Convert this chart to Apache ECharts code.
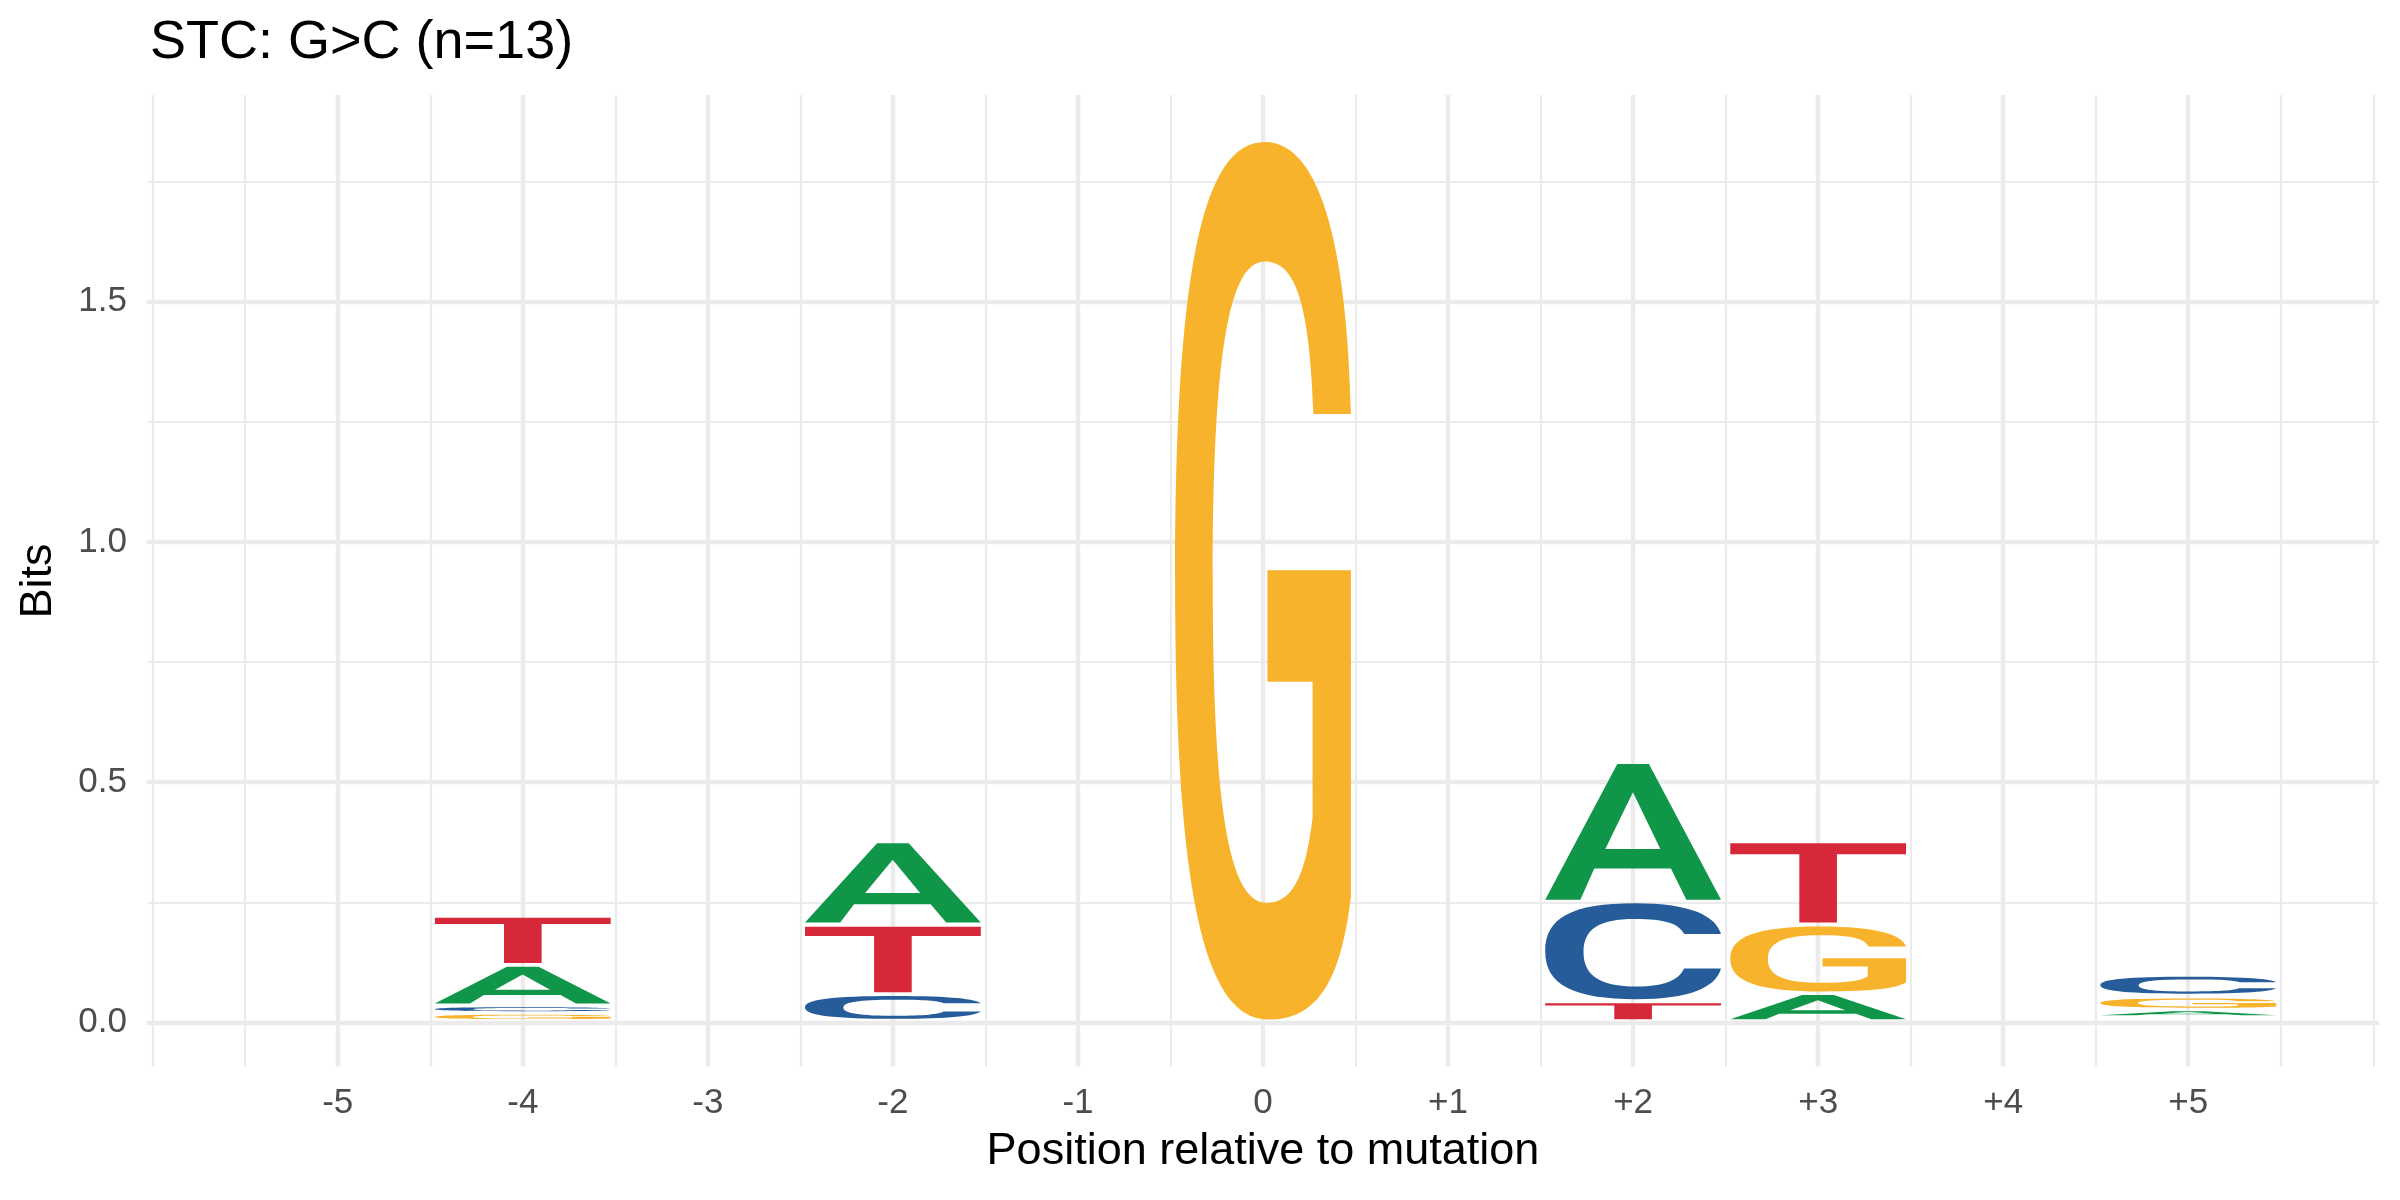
<!DOCTYPE html>
<html>
<head>
<meta charset="utf-8">
<script src="https://cdn.jsdelivr.net/npm/echarts@6/dist/echarts.min.js"></script>
<style>
html,body{margin:0;padding:0;background:#ffffff;}
#chart{width:2400px;height:1200px;}
</style>
</head>
<body>
<div id="chart"></div>
<script>
// ---------------- data ----------------
const positions  = [-4, -4, -4, -4,  -2, -2, -2,  0,  2, 2, 2,  3, 3, 3,  5, 5, 5];
const letters    = ['G','C','A','T', 'C','T','A', 'G', 'T','C','A', 'A','G','T', 'A','G','C'];
const bitBottoms = [0.007, 0.0235, 0.0396, 0.124,  0.0077, 0.063, 0.208,  0.006,  0.0069, 0.0486, 0.2556,  0.0069, 0.0646, 0.208,  0.0153, 0.0306, 0.060];
const bitTops    = [0.016, 0.0315, 0.116, 0.218,   0.055, 0.199, 0.373,   1.832,  0.040, 0.248, 0.538,     0.057, 0.200, 0.373,     0.0236, 0.050, 0.095];

const xTickValues = [-5, -4, -3, -2, -1, 0, 1, 2, 3, 4, 5];
const yTickValues = [0, 0.5, 1.0, 1.5];
const xMajorGrid = [-5, -4, -3, -2, -1, 0, 1, 2, 3, 4, 5];
const xMinorGrid = [-6, -5.5, -4.5, -3.5, -2.5, -1.5, -0.5, 0.5, 1.5, 2.5, 3.5, 4.5, 5.5, 6];
const yMajorGrid = [0, 0.5, 1.0, 1.5];
const yMinorGrid = [0.25, 0.75, 1.25, 1.75];

// ---------------- styling ----------------
const FONT = '"Liberation Sans", Arial, Helvetica, sans-serif';
const COLORS = { A: '#109648', C: '#255C99', G: '#F7B32B', T: '#D62839' };
const LETTER_HALF = 0.475;
const GRID_COLOR = '#EBEBEB';

// glyph outlines in a 100x100 box (stretched to fill each letter's slot)
const LETTER_PATHS = {
  A: 'M0,100 L41,0 L59,0 L100,100 L80.3,100 L71.5,77 L27.9,77 L20,100 Z M34.2,62.7 L65.5,62.7 L49.9,20.9 Z',
  T: 'M0,0 L100,0 L100,14 L60.7,14 L60.7,100 L39.3,100 L39.3,14 L0,14 Z',
  G: 'M51,0 C84,0 98,13 100,31 L78.7,31 C76.5,18 68,13.6 51,13.6 C30.3,13.6 21.4,24.5 21.4,50 C21.4,75.7 30.6,86.7 52,86.7 C66,86.7 74,84 78.2,77 L78.2,61.5 L52.5,61.5 L52.5,48.8 L100,48.8 L100,86 C94,96 80,100 53,100 C16,100 0,85 0,50 C0,15 15.3,0 51,0 Z',
  C: 'M51,0 C84,0 97,14 100,32 L79,32 C76,21 68,16.4 51,16.4 C30.5,16.4 21.8,27 21.8,51 C21.8,75 31,86.8 52,86.8 C68,86.8 76,80 79,68 L100,68 C97,88 82,100 52,100 C16,100 0,85 0,50 C0,15 15.3,0 51,0 Z'
};

const gridLines = []
  .concat(xMinorGrid.map(v => ({ xAxis: v, lineStyle: { width: 2.2, color: GRID_COLOR, type: 'solid', cap: 'butt' } })))
  .concat(xMajorGrid.map(v => ({ xAxis: v, lineStyle: { width: 4.4, color: GRID_COLOR, type: 'solid', cap: 'butt' } })))
  .concat(yMinorGrid.map(v => ({ yAxis: v, lineStyle: { width: 2.2, color: GRID_COLOR, type: 'solid', cap: 'square' } })))
  .concat(yMajorGrid.map(v => ({ yAxis: v, lineStyle: { width: 4.4, color: GRID_COLOR, type: 'solid', cap: 'square' } })));

const logoData = positions.map((p, i) => [p, bitBottoms[i], bitTops[i], i]);

const chart = echarts.init(document.getElementById('chart'), null, { renderer: 'canvas', width: 2400, height: 1200 });

const option = {
  backgroundColor: '#ffffff',
  animation: false,
  title: {
    text: 'STC: G>C (n=13)',
    left: 150,
    top: 16,
    padding: 0,
    textStyle: { fontSize: 54, fontWeight: 'normal', color: '#000000', fontFamily: FONT }
  },
  grid: { left: 149, top: 95, width: 2228, height: 971.7, containLabel: false },
  xAxis: {
    type: 'value',
    min: -6.02,
    max: 6.02,
    axisLine: { show: false },
    axisTick: { show: false },
    splitLine: { show: false },
    minorSplitLine: { show: false },
    axisLabel: {
      customValues: xTickValues,
      formatter: v => (v > 0 ? '+' + v : String(v)),
      color: '#4D4D4D',
      fontSize: 35,
      fontFamily: FONT,
      margin: 19
    }
  },
  yAxis: {
    type: 'value',
    min: -0.092,
    max: 1.93,
    axisLine: { show: false },
    axisTick: { show: false },
    splitLine: { show: false },
    axisLabel: {
      customValues: yTickValues,
      formatter: v => Number(v).toFixed(1),
      color: '#4D4D4D',
      fontSize: 35,
      fontFamily: FONT,
      margin: 22
    }
  },
  graphic: [
    {
      type: 'text', x: 1263, y: 1152, silent: true,
      style: { text: 'Position relative to mutation', fill: '#000000', font: '45px ' + FONT, align: 'center', verticalAlign: 'middle' }
    },
    {
      type: 'text', x: 39, y: 581, rotation: Math.PI / 2, silent: true,
      style: { text: 'Bits', fill: '#000000', font: '45px ' + FONT, align: 'center', verticalAlign: 'middle' }
    }
  ],
  series: [
    {
      type: 'line',
      data: [],
      z: 0,
      silent: true,
      markLine: {
        silent: true,
        z: 0,
        symbol: 'none',
        animation: false,
        label: { show: false },
        emphasis: { disabled: true },
        data: gridLines
      }
    },
    {
      type: 'custom',
      z: 2,
      silent: true,
      data: logoData,
      encode: { x: 0, y: [1, 2] },
      renderItem: function (params, api) {
        const i = api.value(3);
        const p = api.value(0);
        const lo = api.coord([p - LETTER_HALF, api.value(1)]);
        const hi = api.coord([p + LETTER_HALF, api.value(2)]);
        const L = letters[i];
        return {
          type: 'path',
          shape: {
            pathData: LETTER_PATHS[L],
            x: lo[0], y: hi[1],
            width: hi[0] - lo[0],
            height: lo[1] - hi[1],
            layout: 'cover'
          },
          style: { fill: COLORS[L] }
        };
      }
    }
  ]
};
chart.setOption(option);
</script>
</body>
</html>
